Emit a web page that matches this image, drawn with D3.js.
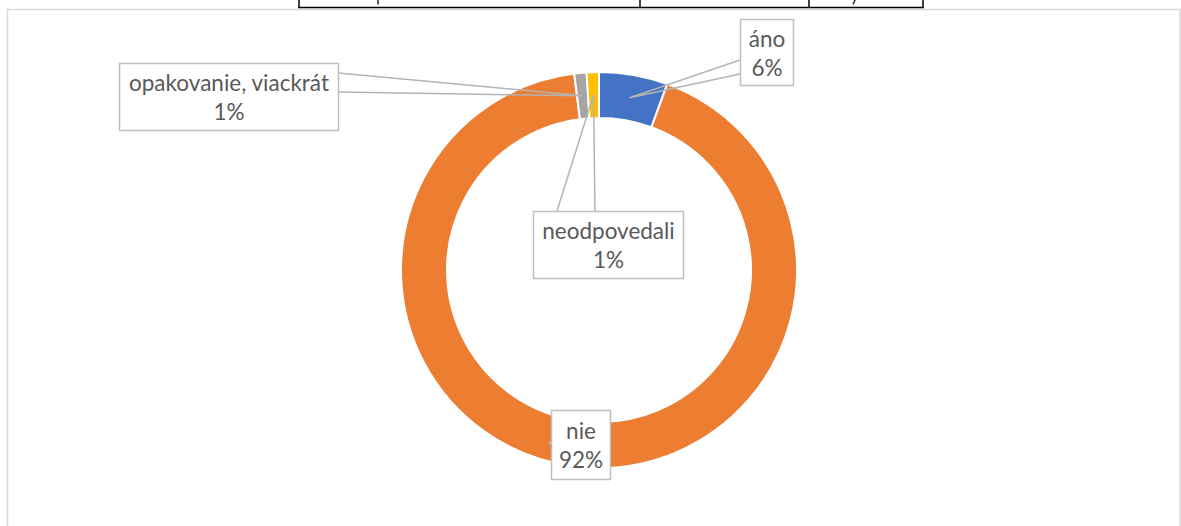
<!DOCTYPE html>
<html><head><meta charset="utf-8">
<script src="https://cdn.jsdelivr.net/npm/d3@7"></script>
<style>
html,body{margin:0;padding:0;background:#fff;}
svg{display:block;}
text{font-family:"Lato","Open Sans",sans-serif;}
</style></head>
<body>
<svg id="c" width="1181" height="526"></svg>
<script>
// Data
const categories = ["áno", "nie", "opakovanie, viackrát", "neodpovedali"];
const values = [5.6, 92.4, 1.0, 1.0];
const colors = ["#4472C4", "#ED7D31", "#A5A5A5", "#FFC000"];

// Layout for labels (box rect x0,y0,x1,y1 and leader attach points on box)
const labelBoxes = [
  {box:[740,19,793,85], attach:[[740,60],[740,74]]},
  {box:[551,410,610,479], attach:[[551,441],[551,445]]},
  {box:[119,63,338,130], attach:[[338,73],[338,92]]},
  {box:[533,211,683,278], attach:[[557,211],[595,211]]}
];

const svg = d3.select("#c");

// Chart frame
svg.append("rect").attr("x",7.5).attr("y",9.5).attr("width",1172.5).attr("height",560)
  .attr("fill","#fff").attr("stroke","#d9d9d9").attr("stroke-width",1.5);

// Table fragment at top (bottom edge of a table cut off above the chart)
const tb = svg.append("g");
tb.append("line").attr("x1",298).attr("x2",924).attr("y1",7.5).attr("y2",7.5).attr("stroke","#000").attr("stroke-width",1.5);
[299,640,809,923].forEach(x=>tb.append("line").attr("x1",x).attr("x2",x).attr("y1",0).attr("y2",8).attr("stroke","#000").attr("stroke-width",1.5));
tb.append("line").attr("x1",378).attr("x2",378).attr("y1",0).attr("y2",4.5).attr("stroke","#333").attr("stroke-width",1.6);
tb.append("line").attr("x1",855).attr("x2",853).attr("y1",0).attr("y2",4.5).attr("stroke","#333").attr("stroke-width",1.6);

const cx = 599, cy = 270, rOuter = 198, rInner = 152;
const g = svg.append("g").attr("transform",`translate(${cx},${cy})`);

const pie = d3.pie().sort(null).value(d=>d)(values);
const arc = d3.arc().innerRadius(rInner).outerRadius(rOuter);
const mid = d3.arc().innerRadius(175).outerRadius(175);

g.selectAll("path.slice").data(pie).join("path")
  .attr("class","slice")
  .attr("d",arc)
  .attr("fill",(d,i)=>colors[i])
  .attr("stroke","#fff").attr("stroke-width",2);

const total = d3.sum(values);

// Leaders
const lg = svg.append("g");
pie.forEach((d,i)=>{
  if(i===1) return;
  const c = mid.centroid(d);
  const t = [cx+c[0], cy+c[1]];
  const a = labelBoxes[i].attach;
  lg.append("path")
    .attr("d", `M${a[0][0]},${a[0][1]}L${t[0]},${t[1]}L${a[1][0]},${a[1][1]}`)
    .attr("fill","none").attr("stroke","#b4b4b4").attr("stroke-width",1.5);
});
lg.append("line").attr("x1",549).attr("x2",551).attr("y1",443).attr("y2",443).attr("stroke","#b4b4b4").attr("stroke-width",3);

// Labels
const lab = svg.append("g");
pie.forEach((d,i)=>{
  const b = labelBoxes[i].box;
  lab.append("rect").attr("x",b[0]+0.5).attr("y",b[1]+0.5)
    .attr("width",b[2]-b[0]).attr("height",b[3]-b[1])
    .attr("fill","#fff").attr("stroke","#bfbfbf").attr("stroke-width",1.5);
  const mx = (b[0]+b[2])/2 + 0.5, my = (b[1]+b[3])/2 + 0.5;
  const pct = Math.round(d.value/total*100) + "%";
  lab.append("text").attr("x",mx).attr("y",my-14.5).attr("text-anchor","middle")
    .attr("dominant-baseline","central").attr("font-size",22.5).attr("fill","#595959").text(categories[i]);
  lab.append("text").attr("x",mx).attr("y",my+14.5).attr("text-anchor","middle")
    .attr("dominant-baseline","central").attr("font-size",22.5).attr("fill","#595959").text(pct);
});
</script>
</body></html>
